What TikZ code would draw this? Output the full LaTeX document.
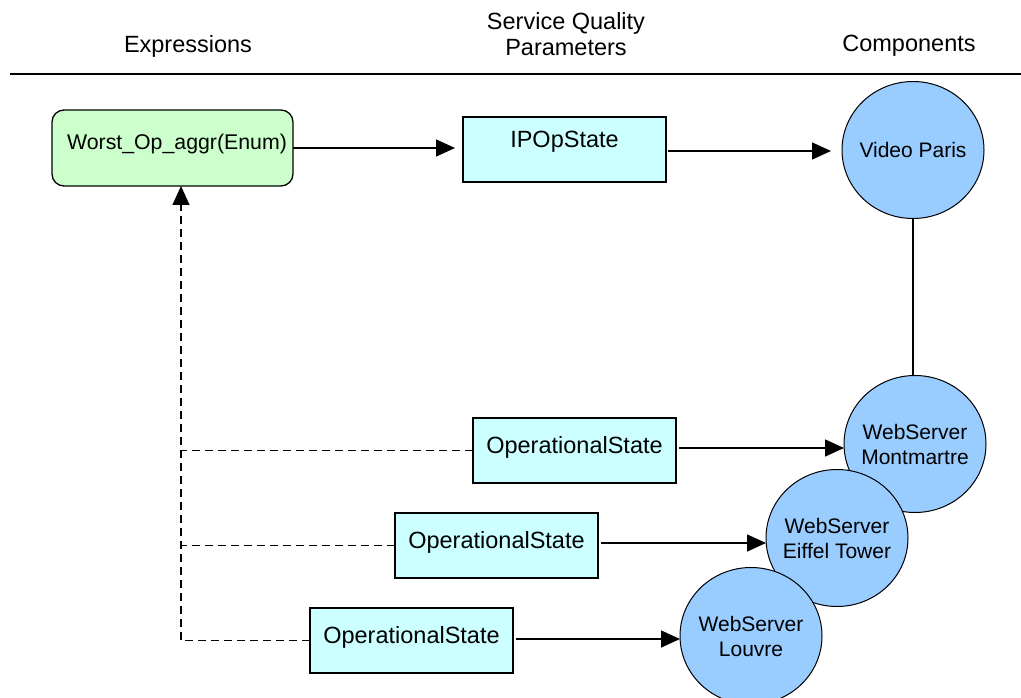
\documentclass[tikz,border=0pt]{standalone}
\usepackage{fontspec}
\setmainfont{Liberation Sans}
\usetikzlibrary{arrows.meta,shapes.geometric,calc}
\definecolor{greenbox}{HTML}{CCFFCC}
\definecolor{cyanbox}{HTML}{CCFFFF}
\definecolor{bluecirc}{HTML}{99CCFF}
\begin{document}
\begin{tikzpicture}[x=1pt,y=-1pt,
  every node/.style={inner sep=0pt,outer sep=0pt},
  hdr/.style={font=\fontsize{23.5}{26}\selectfont,align=center},
  parambox/.style={draw,fill=cyanbox,line width=1.3pt,minimum width=203pt,
    text height=35pt,text depth=30pt,anchor=north west,
    font=\fontsize{23.5}{26}\selectfont},
  exprbox/.style={draw,fill=greenbox,line width=1.3pt,rounded corners=12pt,
    minimum width=241pt,text height=40pt,text depth=36pt,anchor=north west,
    font=\fontsize{21.3}{25}\selectfont},
  comp/.style={ellipse,draw,fill=bluecirc,line width=1pt,minimum width=142pt,
    minimum height=137pt,inner sep=-12pt,align=center,font=\fontsize{21}{25}\selectfont},
  arr/.style={line width=1.4pt,-{Triangle[length=19pt,width=17pt]}},
  dsh/.style={line width=1.2pt,dash pattern=on 8pt off 5pt},
  plain/.style={line width=1.4pt}
]
\useasboundingbox (0,0) rectangle (1021,698);

% headers
\node[hdr] (hexp) at (188,46) {Expressions};
\node[hdr] (hsqp) at (566,34) {Service Quality\\Parameters};
\node[hdr] (hcomp) at (909,46) {Components};
\draw[line width=1.5pt] (10,74) -- (1021,74);

% boxes
\node[exprbox] (expr) at (52,110) {\hspace*{9pt}Worst\_Op\_aggr(Enum)};
\node[parambox,text height=31pt,text depth=34pt] (ip) at (463,117) {IPOpState};
\node[parambox] (op1) at (473,418) {OperationalState};
\node[parambox] (op2) at (395,513) {OperationalState};
\node[parambox] (op3) at (310,608) {OperationalState};

% components
\node[comp] (video) at (913,150) {Video Paris};
\draw[plain] (video.south) -- ++(0,160);
\node[comp] (mont) at (915,444) {WebServer\\Montmartre};
\node[comp] (eiffel) at (837,538) {WebServer\\Eiffel Tower};
\node[comp] (louvre) at (751,636) {WebServer\\Louvre};

% connectors
\draw[arr,shorten >=8pt] (expr.east) -- (expr.east -| ip.west);
\draw[arr,shorten <=2pt,shorten >=11pt] ([yshift=-1.5pt]ip.east) -- ([yshift=-1.5pt]ip.east -| video.west);
\draw[arr,shorten <=3pt] ([yshift=2.5pt]op1.east) -- ([yshift=2.5pt]op1.east -| mont.west);
\draw[arr,shorten <=3pt] ([yshift=2.5pt]op2.east) -- ([yshift=2.5pt]op2.east -| eiffel.west);
\draw[arr,shorten <=3pt] ([yshift=1.5pt]op3.east) -- ([yshift=1.5pt]op3.east -| louvre.west);

% dashed feedback
\draw[dsh,-{Triangle[length=19pt,width=17pt]}] (op3.west) -| ([xshift=8.5pt]expr.south);
\draw[dsh] (op1.west) -- ([xshift=8.5pt]op1.west -| expr.south);
\draw[dsh] (op2.west) -- ([xshift=8.5pt]op2.west -| expr.south);
\end{tikzpicture}
\end{document}
